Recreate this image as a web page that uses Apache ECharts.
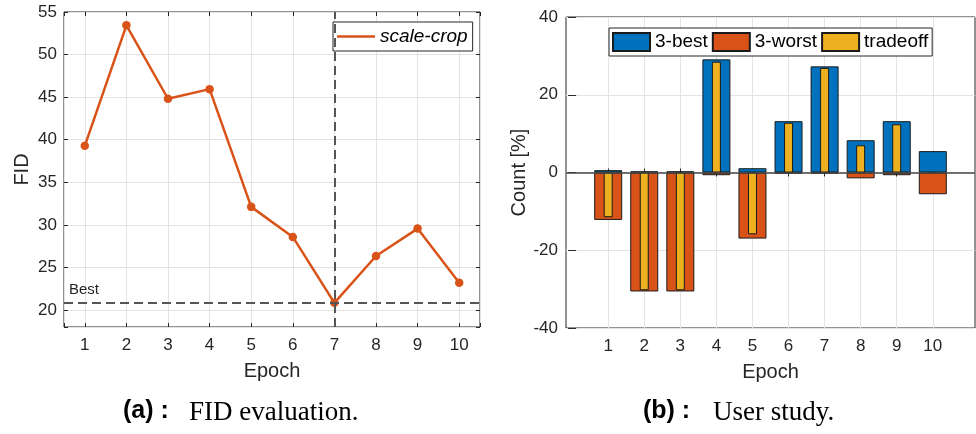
<!DOCTYPE html>
<html>
<head>
<meta charset="utf-8">
<script src="https://cdn.jsdelivr.net/npm/echarts@6/dist/echarts.min.js"></script>
<style>
  html, body { margin: 0; padding: 0; background: #fff; }
  #chart { width: 976px; height: 434px; }
</style>
</head>
<body>
<div id="chart"></div>
<script>
// ── data ──
const epochs = [1, 2, 3, 4, 5, 6, 7, 8, 9, 10];
const fid = [39.28, 53.43, 44.81, 45.94, 32.11, 28.58, 20.84, 26.34, 29.56, 23.21];
const bestFid = 20.84;
const bestEpoch = 7;
const best3 = [0.6, 0.3, 0.3, 29.1, 1.1, 13.2, 27.3, 8.3, 13.2, 5.5];
const worst3 = [-12.2, -30.6, -30.6, -0.7, -17.0, -0.3, -0.3, -1.5, -0.7, -5.6];
const tradeoff = [-11.5, -30.3, -30.3, 28.5, -15.9, 12.8, 26.9, 7.0, 12.4, 0];

// ── style ──
const INK = "#262626";
const FONT = "Liberation Sans";
const GRID = "#e3e3e3";
const C_BLUE = "#0072BD", C_RED = "#D95319", C_YEL = "#EDB120";

const pairs = (ys) => epochs.map((x, i) => [x, ys[i]]);
const intOnly = (v) => (Number.isInteger(v) ? String(v) : "");

const tickStyle = { inside: true, length: 4, lineStyle: { color: INK, width: 1 } };
const labelStyle = { color: INK, fontFamily: FONT, fontSize: 17 };
const nameStyle = { color: INK, fontFamily: FONT, fontSize: 20 };

// mirrored top/right axes: ticks only (MATLAB "box on")
function mirror(grid, pos, min, max, extra) {
  return Object.assign({
    type: "value", gridIndex: grid, position: pos, min, max,
    axisLine: { show: false }, axisLabel: { show: false },
    splitLine: { show: false }, axisTick: tickStyle,
  }, extra || {});
}

const chart = echarts.init(document.getElementById("chart"), null, { renderer: "canvas" });

chart.setOption({
  animation: false,
  backgroundColor: "#fff",
  grid: [
    { left: 64, top: 12, width: 416, height: 315, show: true, borderColor: INK, borderWidth: 1, backgroundColor: "#fff" },
    { left: 566, top: 17, width: 409, height: 311, show: true, borderColor: INK, borderWidth: 1, backgroundColor: "#fff" },
  ],
  xAxis: [
    {
      type: "value", gridIndex: 0, min: 0.5, max: 10.5, splitNumber: 10,
      name: "Epoch", nameLocation: "middle", nameGap: 34, nameTextStyle: nameStyle,
      axisLine: { show: false }, axisTick: tickStyle,
      axisLabel: Object.assign({ margin: 10, formatter: intOnly }, labelStyle),
      splitLine: { lineStyle: { color: GRID } },
    },
    mirror(0, "top", 0.5, 10.5, { splitNumber: 10 }),
    {
      type: "value", gridIndex: 1, min: -0.17, max: 11.17,
      name: "Epoch", nameLocation: "middle", nameGap: 34, nameTextStyle: nameStyle,
      axisLine: { show: false },
      axisTick: Object.assign({ customValues: epochs }, tickStyle),
      axisLabel: Object.assign({ margin: 10, customValues: epochs }, labelStyle),
      splitLine: { lineStyle: { color: GRID } },
    },
    mirror(1, "top", -0.17, 11.17, { axisTick: Object.assign({ customValues: epochs }, tickStyle) }),
  ],
  yAxis: [
    {
      type: "value", gridIndex: 0, min: 18, max: 55, splitNumber: 7,
      name: "FID", nameLocation: "middle", nameGap: 32, nameTextStyle: nameStyle,
      axisLine: { show: false }, axisTick: tickStyle,
      axisLabel: Object.assign({ margin: 7, formatter: (v) => (v % 5 === 0 ? String(v) : "") }, labelStyle),
      splitLine: { lineStyle: { color: GRID } },
    },
    mirror(0, "right", 18, 55, { splitNumber: 7 }),
    {
      type: "value", gridIndex: 1, min: -40, max: 40, interval: 20,
      name: "Count [%]", nameLocation: "middle", nameGap: 37, nameTextStyle: nameStyle,
      axisLine: { show: false }, axisTick: tickStyle,
      axisLabel: Object.assign({ margin: 8 }, labelStyle),
      splitLine: { lineStyle: { color: GRID } },
    },
    mirror(1, "right", -40, 40, { interval: 20 }),
  ],
  legend: [
    {
      left: 333, top: 22, padding: [5, 5, 5, 4], itemWidth: 38, itemHeight: 2.5, itemGap: 6,
      backgroundColor: "#fff", borderColor: INK, borderWidth: 1,
      data: [{ name: "scale-crop", icon: "rect" }],
      textStyle: { color: "#000", fontFamily: FONT, fontSize: 19, fontStyle: "italic" },
    },
    {
      left: 609, top: 28, padding: [4, 4, 4, 3], itemWidth: 37, itemHeight: 18, itemGap: 4,
      backgroundColor: "#fff", borderColor: INK, borderWidth: 1,
      data: ["3-best", "3-worst", "tradeoff"], icon: "rect",
      textStyle: { color: "#000", fontFamily: FONT, fontSize: 19 },
    },
  ],
  series: [
    // ── (a) FID curve ──
    {
      name: "scale-crop", type: "line", xAxisIndex: 0, yAxisIndex: 0,
      data: pairs(fid), symbol: "circle", symbolSize: 8.5,
      lineStyle: { color: C_RED, width: 2.5 }, itemStyle: { color: C_RED },
      markLine: {
        silent: true, symbol: "none", animation: false,
        lineStyle: { color: "#555", type: [9, 5], width: 2 },
        label: { show: false },
        data: [
          { yAxis: bestFid, label: { show: true, formatter: "Best", position: "insideStartTop", distance: 5, color: INK, fontFamily: FONT, fontSize: 15 } },
          { xAxis: bestEpoch },
        ],
      },
      z: 3,
    },
    // ── (b) user study bars ──
    {
      name: "3-best", type: "bar", xAxisIndex: 2, yAxisIndex: 2,
      data: pairs(best3), barWidth: 28, barGap: "-100%",
      itemStyle: { color: C_BLUE, borderColor: "#1a1a1a", borderWidth: 1 },
    },
    {
      name: "3-worst", type: "bar", xAxisIndex: 2, yAxisIndex: 2,
      data: pairs(worst3), barWidth: 28, barGap: "-100%",
      itemStyle: { color: C_RED, borderColor: "#1a1a1a", borderWidth: 1 },
    },
    {
      name: "tradeoff", type: "bar", xAxisIndex: 3, yAxisIndex: 2,
      data: pairs(tradeoff), barWidth: 9,
      itemStyle: { color: C_YEL, borderColor: "#1a1a1a", borderWidth: 1 },
      markLine: {
        silent: true, symbol: "none", animation: false, label: { show: false },
        lineStyle: { color: "#444", type: "solid", width: 1.5 },
        data: [{ yAxis: 0 }],
      },
      z: 3,
    },
  ],
  // ── sub-captions ──
  graphic: [
    { type: "text", left: 123, top: 399, style: { text: "(a) :", fill: "#000", font: "bold 25px 'Liberation Sans'" } },
    { type: "text", left: 189, top: 399, style: { text: "FID evaluation.", fill: "#000", font: "27px 'Liberation Serif'" } },
    { type: "text", left: 643, top: 399, style: { text: "(b) :", fill: "#000", font: "bold 25px 'Liberation Sans'" } },
    { type: "text", left: 713, top: 399, style: { text: "User study.", fill: "#000", font: "27px 'Liberation Serif'" } },
  ],
});
</script>
</body>
</html>
